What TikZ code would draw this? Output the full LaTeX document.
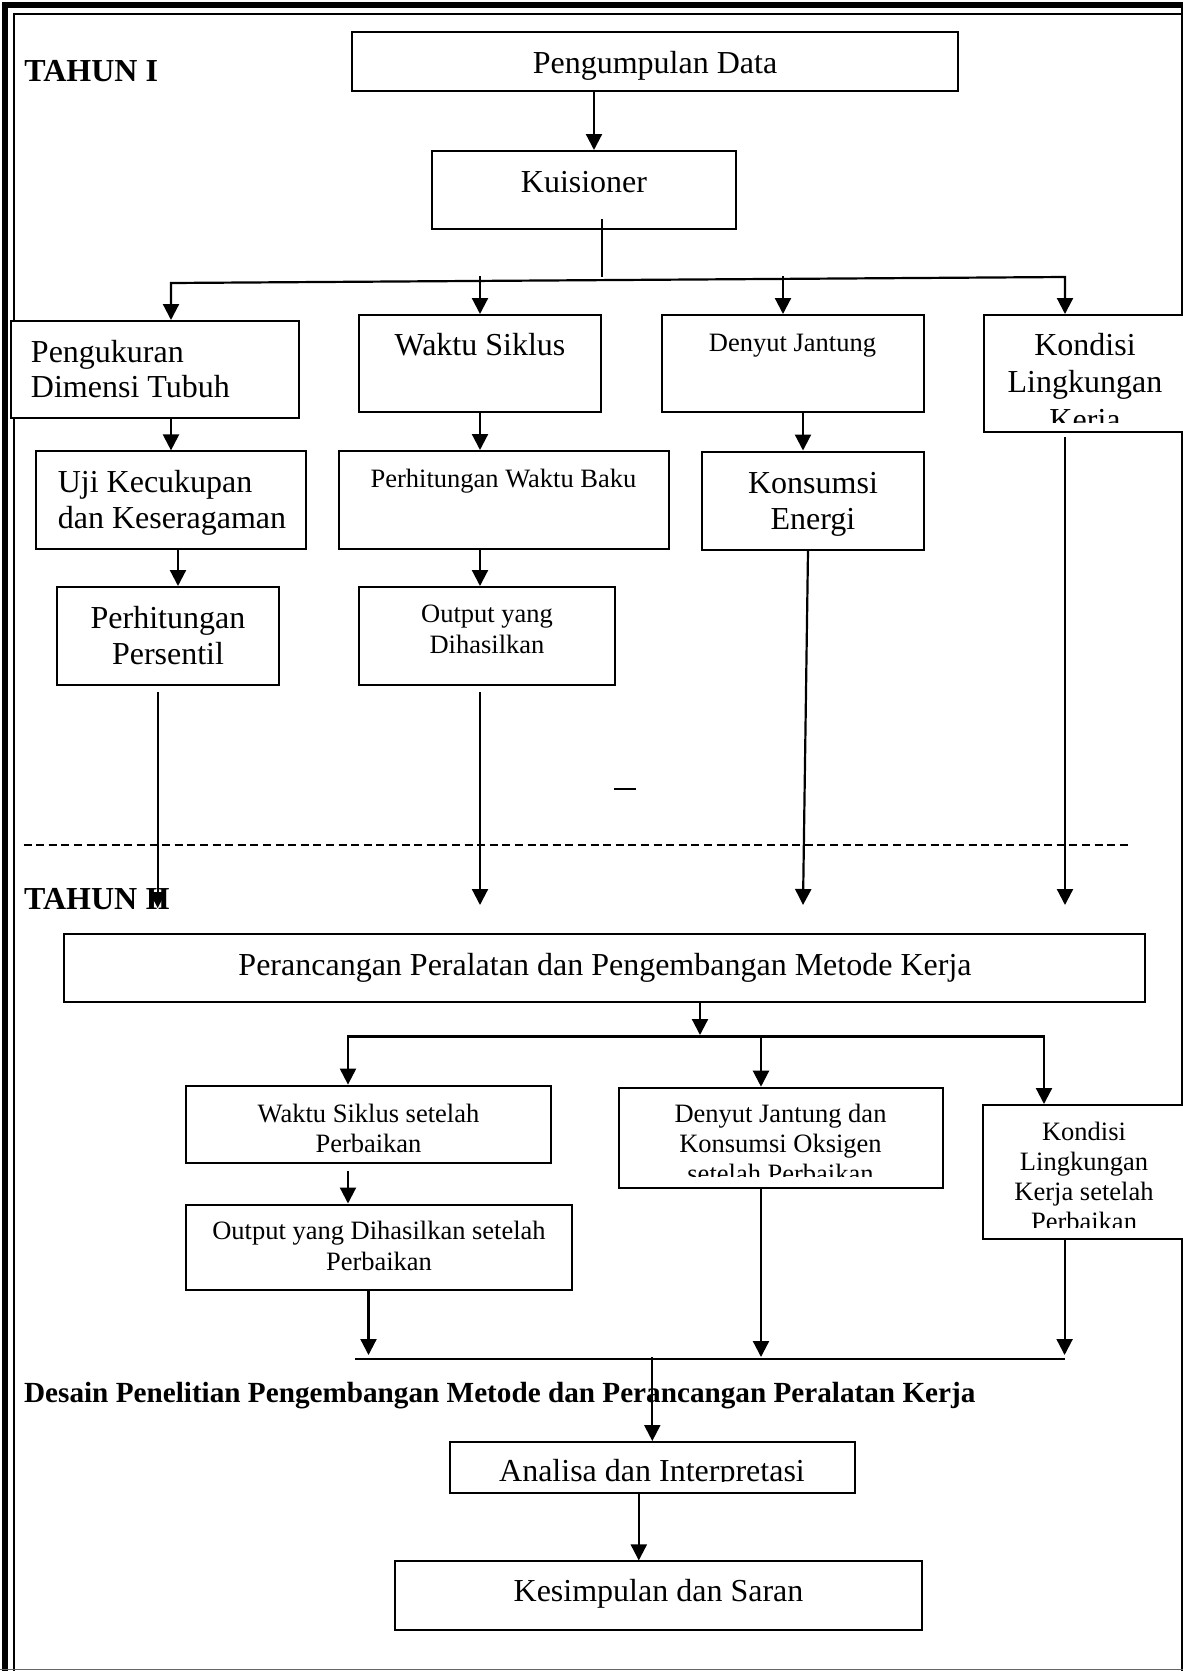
\documentclass[tikz,border=0pt]{standalone}
\usepackage{fontspec}
\setmainfont{Liberation Serif}
\usetikzlibrary{arrows.meta,fit,calc}
\newcommand{\fbig}[1]{\fontsize{16}{#1}\selectfont}
\newcommand{\fsml}[1]{\fontsize{13.25}{#1}\selectfont}
\begin{document}
\begin{tikzpicture}[x=0.5pt,y=-0.5pt,
  box/.style={draw, fill=white, line width=1pt, inner sep=0pt},
  txt/.style={inner sep=0pt, anchor=base},
  txtl/.style={inner sep=0pt, anchor=base west},
  arr/.style={line width=1.1pt, -{Triangle[length=8pt,width=8pt]}},
  arrboth/.style={line width=1.1pt, {Triangle[length=8pt,width=8pt]}-{Triangle[length=8pt,width=8pt]}},
  ln/.style={line width=1.1pt},
  ttl/.style={inner sep=0pt, anchor=base west, font=\fontsize{16}{18}\selectfont\bfseries}]
\useasboundingbox (0,0) rectangle (1183,1671);
\fill[white] (0,0) rectangle (1183,1671);
% frame
\draw[line width=3.25pt] (5,1671) -- (5,5) -- (1183,5);
\draw[line width=1pt] (13.5,1671) -- (13.5,13.5) -- (1181.5,13.5);
\draw[line width=1pt] (1181.5,5) -- (1181.5,1671);
\draw[line width=0.8pt, black!60] (0,1669.5) -- (1183,1669.5);
% dashed separator
\draw[line width=0.9pt, dash pattern=on 4pt off 2.3pt] (23.5,845) -- (1129,845);
\draw[line width=1pt] (614,789) -- (636,789);

% titles
\node[ttl] (th1) at (24,81) {TAHUN I};
\node[ttl] (th2) at (23.7,909) {TAHUN II};
\node[inner sep=0pt, anchor=base west, font={\fontsize{14.6}{18}\selectfont\bfseries}] (desain) at (23.7,1402) {Desain Penelitian Pengembangan Metode dan Perancangan Peralatan Kerja};

% boxes year I
\node[box, fit={(352,32) (958,91)}] (pd) {};
\node[box, fit={(432,151) (736,229)}] (kuis) {};
\node[box, fit={(11,321) (298.5,418)}] (peng) {};
\node[box, fit={(359,315) (601,412)}] (ws) {};
\node[box, fit={(661.5,315) (924,412)}] (dj) {};
\node[box, fit={(984,315) (1186,432)}] (kl) {};
\node[box, fit={(36.4,451.4) (306,549)}] (uji) {};
\node[box, fit={(338.7,451) (668.5,549)}] (pwb) {};
\node[box, fit={(702,451.5) (924,549.6)}] (ke) {};
\node[box, fit={(56.6,587) (279.4,684.5)}] (pp) {};
\node[box, fit={(359,587) (614.6,684.5)}] (out) {};

% texts year I
\node[txt, font={\fbig{18}}] (pd-t) at (655,73) {Pengumpulan Data};
\node[txt, font={\fbig{18}}] (kuis-t) at (584,192) {Kuisioner};
\node[txtl, font={\fbig{17.85}}] (peng-t) at (30.6,362) {\begin{tabular}[t]{@{}l@{}}Pengukuran\\Dimensi Tubuh\end{tabular}};
\node[txt, font={\fbig{18}}] (ws-t) at (480,355) {Waktu Siklus};
\node[txt, font={\fsml{15.3}}] (dj-t) at (792.5,351.7) {Denyut Jantung};
\begin{scope}
  \clip (984,315) rectangle (1186,422);
  \node[txt, font={\fbig{18.85}}] (kl-t) at (1085,355) {\begin{tabular}[t]{@{}c@{}}Kondisi\\Lingkungan\\Kerja\end{tabular}};
\end{scope}
\node[txtl, font={\fbig{17.65}}] (uji-t) at (57.4,492.7) {\begin{tabular}[t]{@{}l@{}}Uji Kecukupan\\dan Keseragaman\end{tabular}};
\node[txt, font={\fsml{15.3}}] (pwb-t) at (503.5,487) {Perhitungan Waktu Baku};
\node[txt, font={\fbig{18.3}}] (ke-t) at (813,493) {\begin{tabular}[t]{@{}c@{}}Konsumsi\\Energi\end{tabular}};
\node[txt, font={\fbig{17.7}}] (pp-t) at (168,628.6) {\begin{tabular}[t]{@{}c@{}}Perhitungan\\Persentil\end{tabular}};
\node[txt, font={\fsml{15.3}}] (out-t) at (487,622.8) {\begin{tabular}[t]{@{}c@{}}Output yang\\Dihasilkan\end{tabular}};

% boxes year II
\node[box, fit={(64.3,934) (1145,1001.7)}] (prc) {};
\node[box, fit={(185.6,1085.6) (551,1162.6)}] (ws2) {};
\node[box, fit={(185.6,1204.5) (572,1289.7)}] (out2) {};
\node[box, fit={(618.5,1087.7) (942.7,1188.3)}] (dj2) {};
\node[box, fit={(983,1105) (1185,1239.3)}] (kl2) {};
\node[box, fit={(449.7,1442) (855,1493)}] (ana) {};
\node[box, fit={(395.3,1561.4) (922.3,1630)}] (kes) {};

% texts year II
\node[txt, font={\fbig{18}}] (prc-t) at (605,975) {Perancangan Peralatan dan Pengembangan Metode Kerja};
\node[txt, font={\fsml{15}}] (ws2-t) at (368.5,1122) {\begin{tabular}[t]{@{}c@{}}Waktu Siklus setelah\\Perbaikan\end{tabular}};
\node[txt, font={\fsml{15.6}}] (out2-t) at (379,1239.6) {\begin{tabular}[t]{@{}c@{}}Output yang Dihasilkan setelah\\Perbaikan\end{tabular}};
\begin{scope}
  \clip (618.5,1087.7) rectangle (942.7,1176.5);
  \node[txt, font={\fsml{15}}] (dj2-t) at (780.5,1122.8) {\begin{tabular}[t]{@{}c@{}}Denyut Jantung dan\\Konsumsi Oksigen\\setelah Perbaikan\end{tabular}};
\end{scope}
\begin{scope}
  \clip (983,1105) rectangle (1185,1227);
  \node[txt, font={\fsml{15}}] (kl2-t) at (1084,1140) {\begin{tabular}[t]{@{}c@{}}Kondisi\\Lingkungan\\Kerja setelah\\Perbaikan\end{tabular}};
\end{scope}
\begin{scope}
  \clip (449.7,1442) rectangle (855,1481.5);
  \node[txt, font={\fbig{18}}] (ana-t) at (652,1481) {Analisa dan Interpretasi};
\end{scope}
\node[txt, font={\fbig{18}}] (kes-t) at (658.5,1601) {Kesimpulan dan Saran};

% connectors year I
\draw[arr] (594,0 |- pd.south) -- (594,0 |- kuis.north);
\coordinate (kj) at (602,277);
\draw[ln] ([shift={(18,-11)}]kuis.south) -- (kj);
\coordinate (hl) at (171,283);
\coordinate (hr) at (1065,277);
\draw[arrboth] (hl |- peng.north) -- (hl) -- (hr) -- (hr |- kl.north);
\draw[arr] (480,276) -- (480,0 |- ws.north);
\draw[arr] (783,276) -- (783,0 |- dj.north);
\draw[arr] (171,0 |- peng.south) -- (171,0 |- uji.north);
\draw[arr] (178,0 |- uji.south) -- (178,0 |- pp.north);
\draw[arr] (480,0 |- ws.south) -- (480,0 |- pwb.north);
\draw[arr] (480,0 |- pwb.south) -- (480,0 |- out.north);
\draw[arr] (803,0 |- dj.south) -- (803,0 |- ke.north);
\coordinate (e1) at (157.7,908);
\coordinate (e2) at (480,905);
\coordinate (e3) at (803,905);
\coordinate (e4) at (1065,905);
\draw[arr] ([yshift=-3.25pt]pp.south -| e1) -- (e1);
\draw[arr] ([yshift=-3.25pt]out.south -| e2) -- (e2);
\draw[arr] (808,0 |- ke.south) -- (e3);
\draw[arr] (1065,437) -- (e4);

% connectors year II
\draw[arr] (700,0 |- prc.south) -- (700,1035);
\coordinate (bl) at (348,1036.4);
\coordinate (br) at (1044,1036.4);
\draw[arrboth] (bl |- ws2.north) -- (bl) -- (br) -- (br |- kl2.north);
\draw[arr] (761,1036.4) -- (761,0 |- dj2.north);
\draw[arr] (348,1171) -- (348,0 |- out2.north);
\coordinate (ml) at (355,1358.6);
\coordinate (mr) at (1064.6,1358.6);
\draw[ln] (ml) -- (mr);
\draw[arr] (368.5,0 |- out2.south) -- (368.5,1355);
\draw[arr] (761,0 |- dj2.south) -- (761,1357);
\draw[arr] (1064.6,0 |- kl2.south) -- (1064.6,1355);
\draw[arr] (652.3,1357) -- (652.3,0 |- ana.north);
\draw[arr] (638.8,0 |- ana.south) -- (638.8,0 |- kes.north);
\end{tikzpicture}
\end{document}
